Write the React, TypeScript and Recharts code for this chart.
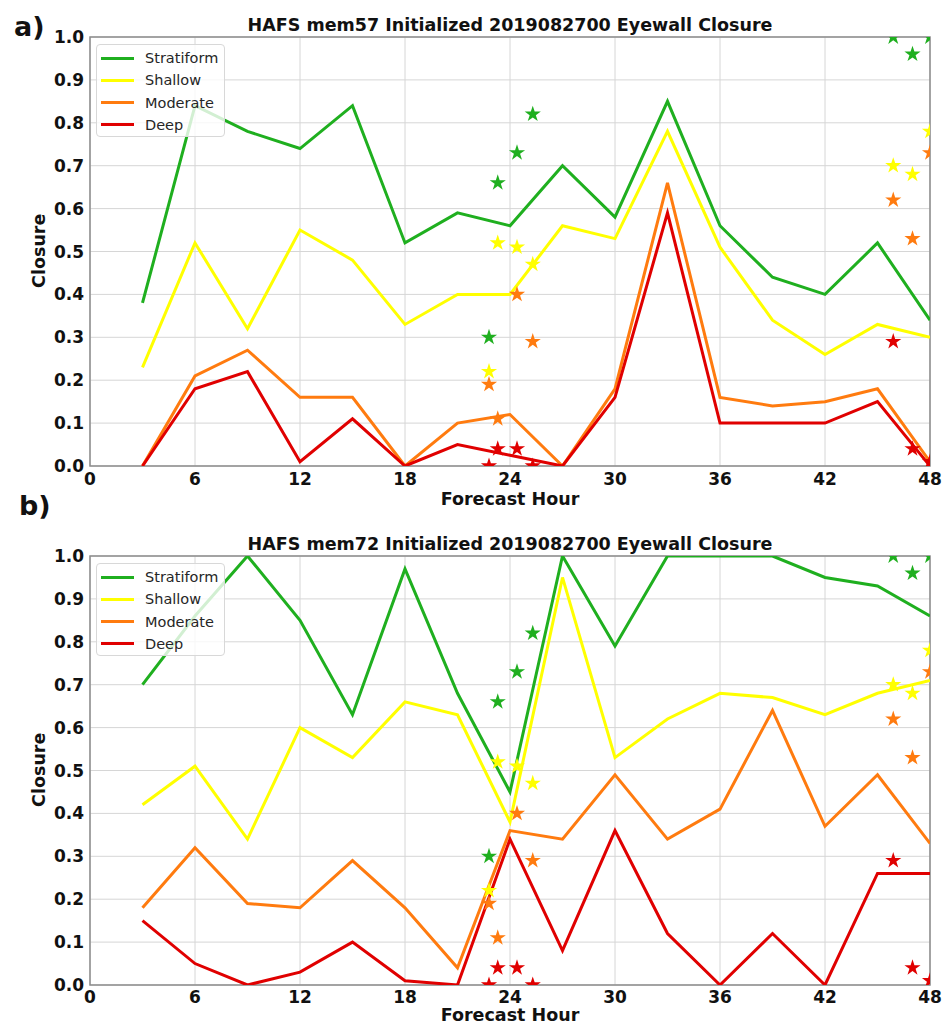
import React from 'react';
import {
  ComposedChart,
  CartesianGrid,
  XAxis,
  YAxis,
  Line,
  Scatter,
  ReferenceArea,
} from 'recharts';

const hours = [3, 6, 9, 12, 15, 18, 21, 24, 27, 30, 33, 36, 39, 42, 45, 48];
const xTicks = [0, 6, 12, 18, 24, 30, 36, 42, 48];
const yTicks = [0, 0.1, 0.2, 0.3, 0.4, 0.5, 0.6, 0.7, 0.8, 0.9, 1.0];

// panel a) mem57
const aStratiform = [0.38, 0.84, 0.78, 0.74, 0.84, 0.52, 0.59, 0.56, 0.7, 0.58, 0.85, 0.56, 0.44, 0.4, 0.52, 0.34];
const aShallow = [0.23, 0.52, 0.32, 0.55, 0.48, 0.33, 0.4, 0.4, 0.56, 0.53, 0.78, 0.51, 0.34, 0.26, 0.33, 0.3];
const aModerate = [0, 0.21, 0.27, 0.16, 0.16, 0, 0.1, 0.12, 0, 0.18, 0.66, 0.16, 0.14, 0.15, 0.18, 0.01];
const aDeep = [0, 0.18, 0.22, 0.01, 0.11, 0, 0.05, 0.025, 0, 0.16, 0.59, 0.1, 0.1, 0.1, 0.15, 0];

// panel b) mem72
const bStratiform = [0.7, 0.86, 1.0, 0.85, 0.63, 0.97, 0.68, 0.45, 1.0, 0.79, 1.0, 1.0, 1.0, 0.95, 0.93, 0.86];
const bShallow = [0.42, 0.51, 0.34, 0.6, 0.53, 0.66, 0.63, 0.38, 0.95, 0.53, 0.62, 0.68, 0.67, 0.63, 0.68, 0.71];
const bModerate = [0.18, 0.32, 0.19, 0.18, 0.29, 0.18, 0.04, 0.36, 0.34, 0.49, 0.34, 0.41, 0.64, 0.37, 0.49, 0.33];
const bDeep = [0.15, 0.05, 0, 0.03, 0.1, 0.01, 0, 0.34, 0.08, 0.36, 0.12, 0, 0.12, 0, 0.26, 0.26];

// observed closure (stars), same in both panels
const starHours = [22.8, 23.3, 24.4, 25.3, 45.9, 47.0, 48.0];
const starStratiform = [0.3, 0.66, 0.73, 0.82, 1.0, 0.96, 1.0];
const starShallow = [0.22, 0.52, 0.51, 0.47, 0.7, 0.68, 0.78];
const starModerate = [0.19, 0.11, 0.4, 0.29, 0.62, 0.53, 0.73];
const starDeep = [0, 0.04, 0.04, 0, 0.29, 0.04, 0.01];

const GREEN = '#1faf1f';
const YELLOW = '#ffff00';
const ORANGE = '#ff7b0f';
const RED = '#e00000';

const FONT = '"DejaVu Sans", sans-serif';

const series = [
  { key: 'Stratiform', color: GREEN },
  { key: 'Shallow', color: YELLOW },
  { key: 'Moderate', color: ORANGE },
  { key: 'Deep', color: RED },
];

function buildRows(s: number[], sh: number[], m: number[], d: number[]) {
  return hours.map((h, i) => ({
    hour: h,
    Stratiform: s[i],
    Shallow: sh[i],
    Moderate: m[i],
    Deep: d[i],
  }));
}

function starRows(vals: number[]) {
  return starHours.map((h, i) => ({ hour: h, value: vals[i] }));
}

const starSets = [
  { color: GREEN, rows: starRows(starStratiform) },
  { color: YELLOW, rows: starRows(starShallow) },
  { color: ORANGE, rows: starRows(starModerate) },
  { color: RED, rows: starRows(starDeep) },
];

function Star(props: any) {
  const { cx, cy, fill } = props;
  if (cx == null || cy == null) return null;
  const R = 8.5;
  const r = R * 0.382;
  const pts: string[] = [];
  for (let i = 0; i < 10; i++) {
    const rad = i % 2 === 0 ? R : r;
    const a = -Math.PI / 2 + (i * Math.PI) / 5;
    pts.push(`${cx + rad * Math.cos(a)},${cy + rad * Math.sin(a)}`);
  }
  return <polygon points={pts.join(' ')} fill={fill} stroke="none" />;
}

const textBase: React.CSSProperties = {
  position: 'absolute',
  fontFamily: FONT,
  fontWeight: 'bold',
  color: '#111',
  lineHeight: 1,
  whiteSpace: 'nowrap',
};

function LegendBox({ top }: { top: number }) {
  return (
    <div
      style={{
        position: 'absolute',
        left: 96,
        top,
        width: 129,
        height: 93,
        border: '1px solid #d8d8d8',
        borderRadius: 4,
        background: 'rgba(255,255,255,0.8)',
        boxSizing: 'border-box',
        fontFamily: FONT,
        fontSize: 14.5,
        color: '#262626',
      }}
    >
      {series.map((s, i) => (
        <div
          key={s.key}
          style={{ position: 'absolute', left: 4, top: 2 + i * 22.3, height: 22, display: 'flex', alignItems: 'center' }}
        >
          <div style={{ width: 33, height: 3, background: s.color, marginRight: 11 }} />
          <span>{s.key}</span>
        </div>
      ))}
    </div>
  );
}

function Panel({
  top,
  rows,
  title,
  xLabelTop,
  xTickGap,
}: {
  top: number;
  rows: any[];
  title: string;
  xLabelTop: number;
  xTickGap: number;
}) {
  return (
    <div style={{ position: 'absolute', left: 0, top, width: 948, height: 506 }}>
      <ComposedChart
        width={948}
        height={500}
        data={rows}
        margin={{ top: 37, right: 18, bottom: 0, left: 0 }}
      >
        <CartesianGrid stroke="#d6d6d6" strokeWidth={1} />
        <XAxis
          dataKey="hour"
          type="number"
          domain={[0, 48]}
          ticks={xTicks}
          allowDataOverflow
          height={34}
          tickLine={false}
          axisLine={false}
          tickSize={3}
          tickMargin={xTickGap}
          tick={{ fill: '#111', fontSize: 17, fontWeight: 'bold', fontFamily: FONT }}
        />
        <YAxis
          type="number"
          domain={[0, 1]}
          ticks={yTicks}
          allowDataOverflow
          width={90}
          tickLine={false}
          axisLine={false}
          tickSize={3}
          tickMargin={3}
          tickFormatter={(v: number) => v.toFixed(1)}
          tick={{ fill: '#111', fontSize: 17, fontWeight: 'bold', fontFamily: FONT }}
        />
        {series.map((s) => (
          <Line
            key={s.key}
            dataKey={s.key}
            stroke={s.color}
            strokeWidth={3}
            dot={false}
            activeDot={false}
            type="linear"
            isAnimationActive={false}
          />
        ))}
        {starSets.map((st, i) => (
          <Scatter
            key={i}
            data={st.rows}
            dataKey="value"
            fill={st.color}
            shape={<Star />}
            isAnimationActive={false}
          />
        ))}
        <ReferenceArea x1={0} x2={48} y1={0} y2={1} fill="none" stroke="#8c8c8c" strokeWidth={1.5} fillOpacity={0} />
      </ComposedChart>
      <div style={{ ...textBase, left: 90, width: 840, top: 17, textAlign: 'center', fontSize: 17.5 }}>{title}</div>
      <div
        style={{
          ...textBase,
          left: 0,
          width: 80,
          top: 242,
          textAlign: 'center',
          transform: 'rotate(-90deg)',
          fontSize: 17.5,
        }}
      >
        Closure
      </div>
      <div style={{ ...textBase, left: 90, width: 840, top: xLabelTop, textAlign: 'center', fontSize: 17.5 }}>
        Forecast Hour
      </div>
      <LegendBox top={44} />
    </div>
  );
}

export default function App() {
  const rowsA = buildRows(aStratiform, aShallow, aModerate, aDeep);
  const rowsB = buildRows(bStratiform, bShallow, bModerate, bDeep);
  return (
    <div style={{ position: 'absolute', left: 0, top: 0, width: 948, height: 1025, background: '#fff', overflow: 'hidden' }}>
      <Panel
        top={0}
        rows={rowsA}
        title="HAFS mem57 Initialized 2019082700 Eyewall Closure"
        xLabelTop={491}
        xTickGap={4}
      />
      <Panel
        top={519}
        rows={rowsB}
        title="HAFS mem72 Initialized 2019082700 Eyewall Closure"
        xLabelTop={488}
        xTickGap={3}
      />
      <div style={{ ...textBase, left: 14, top: 13, fontSize: 27 }}>a)</div>
      <div style={{ ...textBase, left: 19, top: 492, fontSize: 27 }}>b)</div>
    </div>
  );
}
